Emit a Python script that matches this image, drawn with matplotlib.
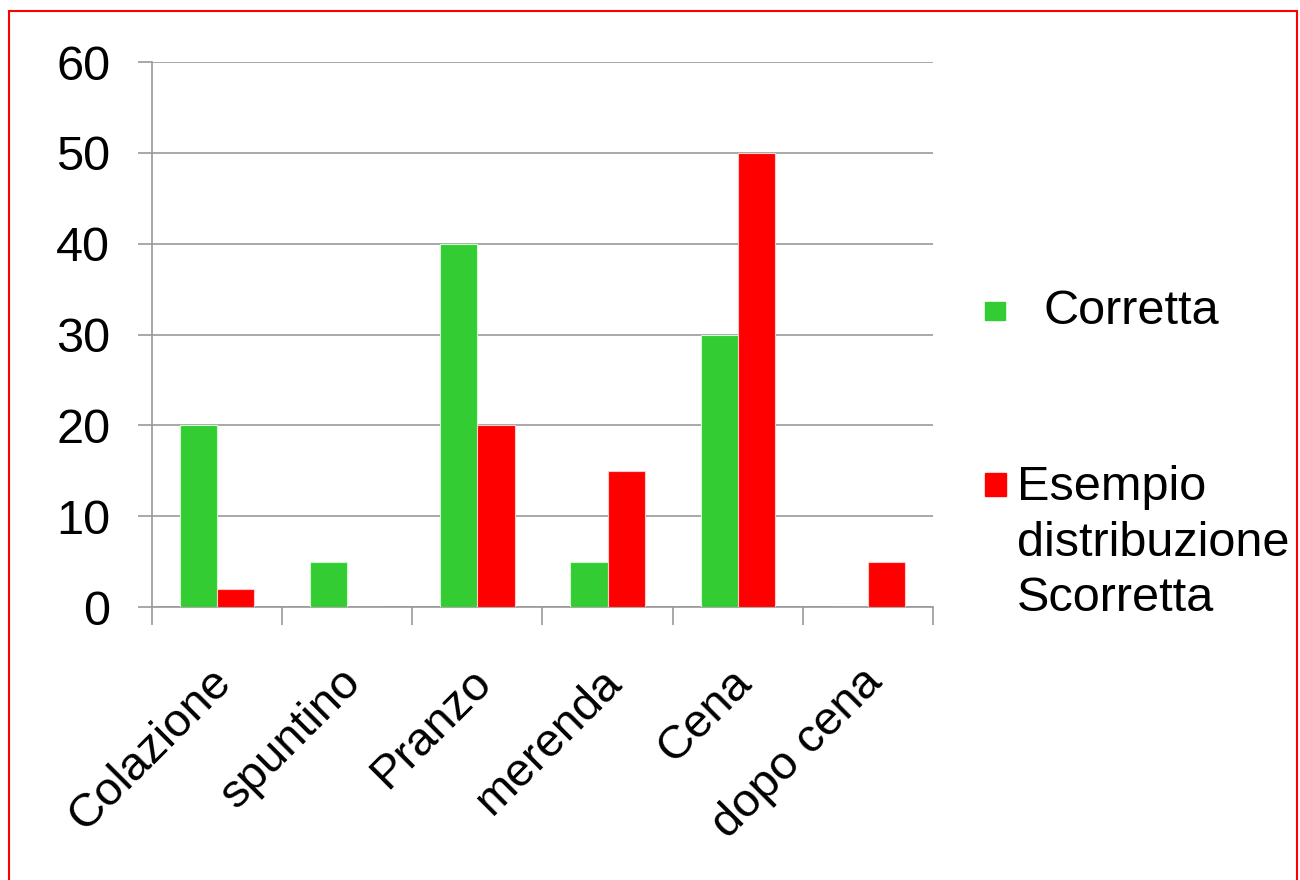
import numpy as np
import matplotlib.pyplot as plt
from matplotlib.patches import Rectangle

categories = ["Colazione", "spuntino", "Pranzo", "merenda", "Cena", "dopo cena"]
corretta = [20, 5, 40, 5, 30, 0]
scorretta = [2, 0, 20, 15, 50, 5]
series_names = ["Corretta", "Esempio\ndistribuzione\nScorretta"]
yticks = [0, 10, 20, 30, 40, 50, 60]

plt.rcParams['font.family'] = ['Liberation Sans', 'DejaVu Sans']

fig = plt.figure(figsize=(13, 8.8), dpi=100)
ax = fig.add_axes([152/1300, 1 - 607/880, (933-152)/1300, (607-62)/880])

x = np.arange(len(categories))
w = 0.285
ax.bar(x - w/2, corretta, w, color='#33cc33', edgecolor='#ccffcc', linewidth=0.8, zorder=3)
ax.bar(x + w/2, scorretta, w, color='#ff0000', edgecolor='#ffcccc', linewidth=0.8, zorder=3)

ax.set_xlim(-0.5, len(categories) - 0.5)
ax.set_ylim(0, 60)
ax.set_yticks(yticks)
ax.set_yticklabels([str(v) for v in yticks], fontsize=35)
ax.yaxis.grid(True, color='#999999', linewidth=1.2, zorder=0)
ax.tick_params(axis='y', length=10, width=1.2, color='#999999', pad=20)

ax.set_xticks(np.arange(len(categories) + 1) - 0.5)
ax.set_xticklabels([])
ax.tick_params(axis='x', length=13, width=1.2, color='#999999')
for i, c in enumerate(categories):
    ax.annotate(c, xy=(i, 0), xycoords=('data', 'axes fraction'),
                xytext=(-6, -38), textcoords='offset points',
                rotation=45, ha='right', va='top', fontsize=34,
                rotation_mode='anchor')

for s in ['top', 'right']:
    ax.spines[s].set_visible(False)
for s in ['left', 'bottom']:
    ax.spines[s].set_color('#999999')
    ax.spines[s].set_linewidth(1.2)

# legend
fig.patches.append(Rectangle((985/1300, 1 - 320/880), 20/1300, 18/880,
                             transform=fig.transFigure, color='#33cc33'))
fig.text(1043/1300, 1 - 311/880, series_names[0], fontsize=35, va='center')
fig.patches.append(Rectangle((985/1300, 1 - 496/880), 21/1300, 23/880,
                             transform=fig.transFigure, color='#ff0000'))
fig.text(1017/1300, 1 - 465/880, series_names[1], fontsize=35, va='top',
         linespacing=1.3)

# red frame (bottom edge lies outside the picture)
fig.patches.append(Rectangle((9/1300, -10/880), 1288/1300, 879/880,
                             transform=fig.transFigure, fill=False,
                             edgecolor='red', linewidth=1.5))

fig.savefig('out.png')
